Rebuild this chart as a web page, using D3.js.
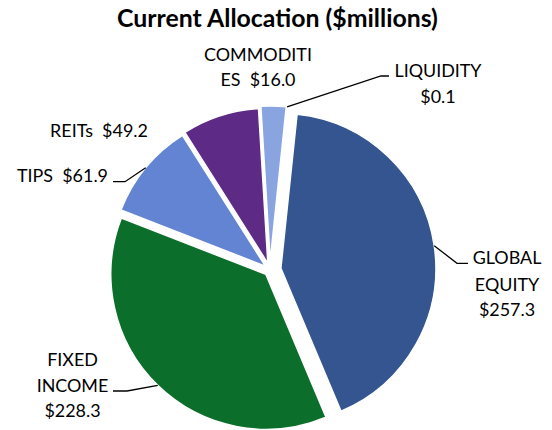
<!DOCTYPE html>
<html><head><meta charset="utf-8">
<script src="https://cdn.jsdelivr.net/npm/d3@7"></script>
<style>
body{margin:0;background:#fff}
svg{display:block}
text{font-family:Lato,'Liberation Sans',sans-serif;fill:#000;white-space:pre}
</style>
</head><body>
<svg id="c" width="552" height="430"></svg>
<script>
// ---- data ----
const categories = ["GLOBAL EQUITY","FIXED INCOME","TIPS","REITs","COMMODITIES","LIQUIDITY"];
const values = [257.3, 228.3, 61.9, 49.2, 16.0, 0.1];
const labelNames = [["GLOBAL","EQUITY"],["FIXED","INCOME"],["TIPS"],["REITs"],["COMMODITI","ES"],["LIQUIDITY"]];
const valueOwnLine = [true, true, false, false, false, true];
const colors = ["#34558f","#0c6e2b","#6384d3","#5d2a85","#8aa4e0","#a5b8e6"];
const title = "Current Allocation ($millions)";

// ---- layout ----
const W = 552, H = 430;
const cx = 270, cy = 270, R = 155;
const startDeg = 6;
const layout = [
  {x:507, ys:[264.3,291,316], anchor:"middle", explode:11, leader:[[457,263.3],[468,263.3]]},
  {x:72.5, ys:[366,391.7,417], anchor:"middle", explode:6, leader:[[127,391],[113,391]]},
  {x:108, ys:[181.7], anchor:"end", explode:6, leader:[[125,181.7],[113,181.7]]},
  {x:99, ys:[136.7], anchor:"middle", explode:7, leader:null},
  {x:258, ys:[60.7,86], anchor:"middle", explode:9, leader:null},
  {x:438, ys:[76.7,102.7], anchor:"middle", explode:9, leader:[[381,76],[389,76]]}
];

const fmt = v => "$" + d3.format(".1f")(v);
const svg = d3.select("#c");

// fit font sizes
function fitSize(str, weight, base, target){
  const t = svg.append("text").attr("font-size", base).attr("font-weight", weight).text(str);
  const w = t.node().getComputedTextLength();
  t.remove();
  return base * target / w;
}
const labelSize = fitSize("COMMODITI", "normal", 20, 108);
const titleSize = fitSize(title, "bold", 24, 321);

svg.append("text")
  .attr("x", 277.5).attr("y", 26.5)
  .attr("text-anchor","middle")
  .attr("font-weight","bold")
  .attr("font-size", titleSize)
  .text(title);

const pie = d3.pie().sort(null).value(d => d)
  .startAngle(startDeg*Math.PI/180).endAngle(startDeg*Math.PI/180 + 2*Math.PI);
const arcs = pie(values);
const arc = d3.arc().innerRadius(0).outerRadius(R);

const g = svg.append("g").attr("transform", `translate(${cx},${cy})`);
arcs.forEach((a, i) => {
  const mid = (a.startAngle + a.endAngle)/2;
  const e = layout[i].explode;
  const ox = e*Math.sin(mid), oy = -e*Math.cos(mid);
  a.ox = ox; a.oy = oy; a.mid = mid;
  g.append("path")
    .attr("d", arc(a))
    .attr("transform", `translate(${ox},${oy})`)
    .attr("fill", colors[i])
    .attr("stroke", "#fff")
    .attr("stroke-width", 1.5)
    .attr("stroke-linejoin","round");
});

// leaders
arcs.forEach((a, i) => {
  const L = layout[i].leader;
  if (!L) return;
  const sx = cx + a.ox + R*Math.sin(a.mid);
  const sy = cy + a.oy - R*Math.cos(a.mid);
  const pts = [[sx, sy], ...L];
  svg.append("path")
    .attr("d", d3.line()(pts))
    .attr("fill","none")
    .attr("stroke","#000")
    .attr("stroke-width",1.3);
});

// labels
arcs.forEach((a, i) => {
  const lay = layout[i];
  const names = labelNames[i].slice();
  let lines;
  if (valueOwnLine[i]) lines = [...names, fmt(values[i])];
  else { lines = names.slice(0, -1); lines.push(names[names.length-1] + "  " + fmt(values[i])); }
  lines.forEach((ln, k) => {
    svg.append("text")
      .attr("x", lay.x).attr("y", lay.ys[k])
      .attr("text-anchor", lay.anchor)
      .attr("font-size", labelSize)
      .text(ln);
  });
});
</script>
</body></html>
